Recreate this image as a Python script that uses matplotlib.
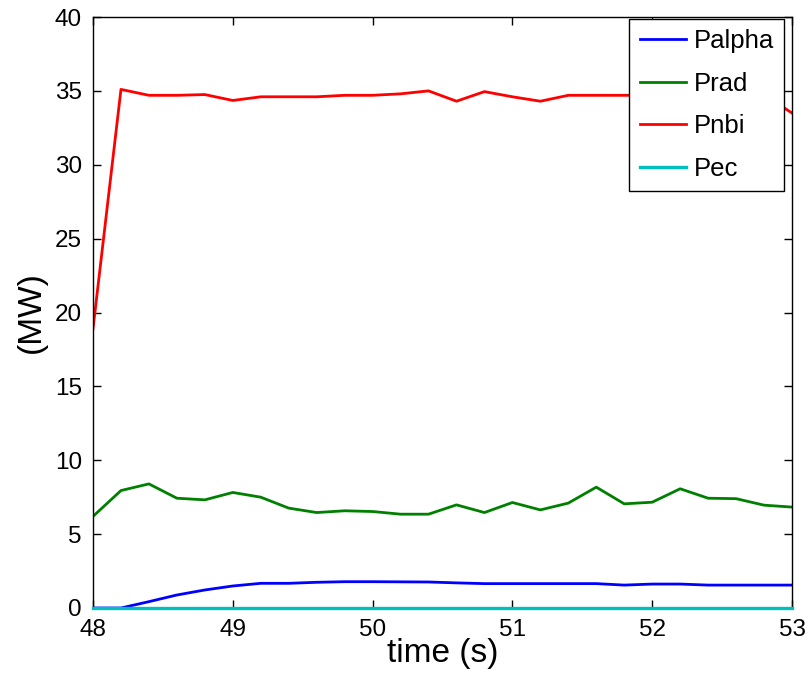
import numpy as np
import matplotlib.pyplot as plt

plt.rcParams['font.family'] = ['Liberation Sans', 'DejaVu Sans']

# time axis (s), sampled every 0.2 s
time = [48.0, 48.2, 48.4, 48.6, 48.8, 49.0, 49.2, 49.4, 49.6, 49.8,
        50.0, 50.2, 50.4, 50.6, 50.8, 51.0, 51.2, 51.4, 51.6, 51.8,
        52.0, 52.2, 52.4, 52.6, 52.8, 53.0]

palpha = [0.0, 0.0, 0.43, 0.88, 1.22, 1.49, 1.67, 1.67, 1.74, 1.78,
          1.78, 1.77, 1.76, 1.70, 1.65, 1.65, 1.65, 1.65, 1.65, 1.55,
          1.62, 1.62, 1.55, 1.55, 1.55, 1.55]

prad = [6.2, 7.95, 8.4, 7.43, 7.32, 7.82, 7.5, 6.76, 6.46, 6.58,
        6.53, 6.35, 6.35, 6.98, 6.46, 7.14, 6.64, 7.1, 8.18, 7.05,
        7.16, 8.07, 7.43, 7.4, 6.96, 6.83]

pnbi = [18.9, 35.1, 34.7, 34.7, 34.75, 34.35, 34.6, 34.6, 34.6, 34.7,
        34.7, 34.8, 35.0, 34.3, 34.95, 34.6, 34.3, 34.7, 34.7, 34.7,
        34.7, 34.6, 34.6, 34.6, 34.75, 33.5]

pec = [0.0] * len(time)

fig = plt.figure(figsize=(8.08, 6.82), dpi=100)
ax = fig.add_axes([93 / 808, 74 / 682, 699 / 808, 591 / 682])

lw = 2.0
ax.plot(time, palpha, color=(0, 0, 1), lw=lw, label='Palpha')
ax.plot(time, prad, color=(0, 0.5, 0), lw=lw, label='Prad')
ax.plot(time, pnbi, color=(1, 0, 0), lw=lw, label='Pnbi')
ax.plot(time, pec, color=(0, 0.75, 0.75), lw=2.4, label='Pec', clip_on=False, zorder=5)

ax.set_xlim(48, 53)
ax.set_ylim(0, 40)
ax.set_xticks([48, 49, 50, 51, 52, 53])
ax.set_yticks(np.arange(0, 41, 5))
ax.tick_params(direction='in', top=True, right=True, labelsize=17.5, length=6, width=1, pad=8)
for s in ax.spines.values():
    s.set_linewidth(1)

ax.set_xlabel('time (s)', fontsize=24, labelpad=-2)
ax.set_ylabel('(MW)', fontsize=24, labelpad=6)

leg = ax.legend(loc='upper right', bbox_to_anchor=(784 / 808, 1 - 19 / 682),
                bbox_transform=fig.transFigure, borderaxespad=0,
                fontsize=18.5, handlelength=1.8, handletextpad=0.3,
                labelspacing=0.72, borderpad=0.4, fancybox=False, framealpha=1)
leg.get_frame().set_edgecolor('black')
leg.get_frame().set_linewidth(1)

fig.savefig('out.png', dpi=100)
